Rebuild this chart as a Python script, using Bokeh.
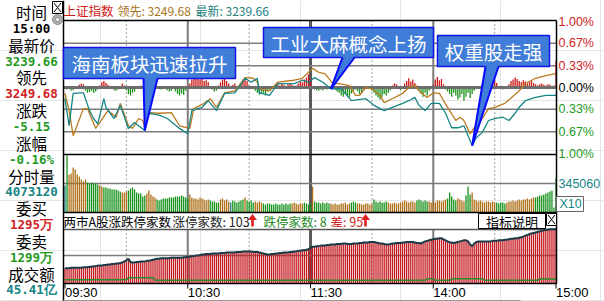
from bokeh.plotting import figure
from bokeh.models import Range1d
from bokeh.core.properties import value
from bokeh.embed import file_html
from bokeh.resources import INLINE

# ------------------------------------------------------------------ data
index_name = "上证指数"
lead_text = "领先: 3249.68"
last_text = "最新: 3239.66"

time_labels = ["09:30", "10:30", "11:30", "14:00", "15:00"]
time_ticks = [0, 60, 120, 180, 240]
grid_solid = [60, 180]
grid_break = [120]
grid_dotted = [30, 90, 150, 210]

pct_ticks = [1.0, 0.67, 0.33, 0.0, -0.33, -0.67, -1.0]
pct_labels = ["1.00%", "0.67%", "0.33%", "0.00%", "0.33%", "0.67%", "1.00%"]
pct_label_side = ["up", "up", "up", "flat", "down", "down", "down"]
vol_tick = 345060
vol_tick_label = "345060"

# index (teal) and leading index (brown), % change vs previous close
index_min = [0, 2, 4, 8, 9, 12, 14, 16, 19, 20, 24, 27, 31, 34, 36, 39, 41, 46, 50, 56,
             60, 62, 67, 70, 74, 78, 83, 88, 91, 94, 95, 100, 104, 112, 116, 119, 122, 126,
             130, 135, 140, 147, 151, 156, 160, 165, 168, 171, 173, 176, 179, 183, 186, 189,
             192, 195, 199, 201, 204, 207, 210, 214, 217, 220, 222, 225, 230, 235, 240]
index_pct = [-0.17, -0.58, -0.09, -0.08, -0.08, -0.35, -0.47, -0.55, -0.17, -0.30,
             -0.47, -0.27, -0.62, -0.53, -0.58, -0.65, -0.39, -0.42, -0.47, -0.62,
             -0.70, -0.35, -0.30, -0.20, -0.35, -0.09, -0.08, 0.14, 0.08, 0.14,
             -0.08, -0.12, 0.06, 0.06, 0.11, 0.08, 0.15, 0.08, -0.02, -0.02,
             -0.20, -0.17, -0.27, -0.35, -0.30, -0.24, -0.20, -0.15, -0.27, -0.35,
             -0.24, -0.24, -0.39, -0.61, -0.61, -0.58, -0.88, -0.76, -0.68, -0.50,
             -0.47, -0.45, -0.50, -0.39, -0.30, -0.20, -0.15, -0.12, -0.12]
lead_min = [0, 2, 4, 9, 11, 15, 21, 25, 27, 31, 33, 36, 38, 39, 41, 46, 52, 56, 61, 63,
            68, 71, 74, 78, 83, 88, 92, 94, 95, 100, 104, 112, 116, 121, 124, 127, 131, 134,
            139, 142, 144, 147, 150, 154, 156, 160, 165, 168, 171, 173, 177, 180, 183, 185,
            188, 191, 193, 195, 198, 200, 204, 207, 210, 215, 222, 225, 230, 235, 240]
lead_pct = [-0.09, -0.35, -0.73, -0.32, -0.32, -0.62, -0.35, -0.45, -0.24, -0.58,
            -0.62, -0.47, -0.50, -0.61, -0.38, -0.39, -0.38, -0.58, -0.62, -0.32,
            -0.24, -0.17, -0.30, -0.08, -0.05, 0.15, 0.14, 0.08, -0.02, -0.05,
            0.08, 0.11, 0.14, 0.29, 0.23, 0.21, 0.06, 0.06, 0.03, -0.12,
            -0.12, 0.00, -0.02, -0.12, -0.23, -0.17, -0.09, 0.00, 0.03, -0.05,
            -0.15, -0.08, -0.09, -0.20, -0.35, -0.50, -0.45, -0.50, -0.70, -0.61,
            -0.47, -0.32, -0.30, -0.24, -0.05, 0.06, 0.14, 0.18, 0.21]

# red / green strength bars around the zero line (one per minute)
strength = [
    0, -0.03, -0.02, -0.05, -0.04, 0.02, 0, 0.04, 0.06, 0.05,
    -0.05, -0.08, -0.07, -0.05, -0.08, -0.06, -0.03, 0.03, 0.08, 0.10,
    0.07, 0.04, 0.02, -0.02, -0.04, -0.05, -0.03, 0.02, 0.06, 0.03,
    -0.04, -0.10, -0.12, -0.08, -0.06, -0.02, 0.02, 0.03, 0.02, 0.04,
    0.10, 0.13, 0.11, 0.08, 0.03, 0.02, -0.02, -0.03, -0.02, 0.02,
    -0.04, -0.06, -0.05, -0.02, -0.06, -0.10, -0.12, -0.09, -0.11, -0.05,
    -0.02, 0.06, 0.12, 0.15, 0.13, 0.15, 0.12, 0.14, 0.10, 0.11,
    0.08, 0.02, -0.03, -0.06, -0.05, 0.03, 0.08, 0.12, 0.15, 0.10,
    0.06, 0.02, 0.04, 0.06, 0.02, 0.02, 0.07, 0.12, 0.14, 0.10,
    0.03, 0.01, -0.02, -0.05, -0.08, -0.11, -0.10, -0.08, -0.12, -0.06,
    -0.03, -0.02, 0.02, 0.05, 0.08, 0.03, 0.06, 0.04, 0.02, 0.05,
    0.07, 0.04, 0.02, 0.03, 0.06, 0.10, 0.08, 0.12, 0.15, 0.20,
    0.13, -0.02, -0.03, -0.04, -0.05, -0.03, -0.04, -0.02, -0.03, -0.02,
    0.00, 0.02, -0.03, -0.06, -0.08, -0.12, -0.14, -0.10, -0.12, -0.15,
    -0.09, -0.05, -0.03, -0.06, -0.10, -0.08, -0.03, 0.02, 0.00, -0.02,
    -0.05, -0.08, -0.12, -0.15, -0.18, -0.14, -0.10, -0.12, -0.08, -0.04,
    0.03, 0.06, 0.05, -0.02, -0.04, 0.02, 0.06, 0.10, 0.14, 0.09,
    0.12, 0.07, 0.03, -0.04, -0.10, -0.14, -0.08, -0.12, -0.05, -0.02,
    0.04, 0.12, 0.16, 0.11, 0.13, 0.05, -0.03, -0.06, -0.10, -0.14,
    -0.08, -0.12, -0.18, -0.15, -0.10, -0.20, -0.14, -0.08, -0.16, -0.10,
    -0.05, 0.02, 0.00, -0.02, 0.05, 0.08, 0.12, 0.14, 0.10, 0.15,
    0.12, 0.07, 0.02, -0.02, -0.03, -0.01, 0.02, 0.05, 0.10, 0.12,
    0.15, 0.13, 0.10, 0.08, 0.11, 0.09, 0.06, 0.08, 0.10, 0.07,
    0.05, 0.03, 0.05, 0.06, 0.04, 0.03, 0.05, 0.04, 0.02, 0.03,
    0.40]

# per-minute volume (units of 10 lots)
volume = [
    321000, 678000,
    452000, 464000, 535000, 512000, 452000, 428000, 393000, 369000, 393000,
    357000, 345000, 357000, 345000, 345000, 333000,
    321000, 309000,
    297000, 297000, 286000, 286000, 274000, 274000, 274000, 262000, 250000,
    238000, 238000, 250000,
    262000, 286000, 297000, 274000, 238000, 226000, 226000, 190000,
    202000, 226000, 262000, 214000, 190000, 178000,
    155000, 143000, 155000, 167000, 167000, 167000, 178000, 178000, 178000, 190000,
    190000, 190000, 202000, 190000, 178000, 167000,
    214000, 178000, 167000, 167000, 155000, 178000, 167000, 155000, 143000, 155000,
    143000, 131000, 131000, 119000, 119000,
    155000, 167000, 143000, 155000, 131000,
    119000, 143000, 131000, 119000, 131000, 143000, 155000,
    178000,
    143000, 131000, 143000, 119000,
    131000, 119000, 131000, 119000,
    107000, 95000, 107000, 107000, 95000, 95000, 107000, 95000, 95000, 107000,
    95000, 107000, 95000, 107000,
    107000, 119000, 107000, 95000, 107000, 107000, 119000, 107000, 95000,
    107000,
    309000,
    131000, 119000, 119000, 107000, 119000, 107000, 119000, 107000,
    107000, 95000, 107000, 95000, 95000, 107000, 107000, 119000, 95000, 107000,
    119000, 131000, 119000,
    107000, 107000, 95000, 95000, 107000, 107000, 95000, 107000,
    155000, 131000, 119000, 131000, 119000, 119000, 131000,
    119000, 107000, 107000, 119000, 107000, 107000, 119000, 131000, 143000, 131000,
    119000, 131000, 131000, 119000,
    143000, 155000, 143000, 131000, 143000, 131000,
    131000, 119000, 131000, 119000, 143000, 143000, 131000, 143000, 155000,
    167000, 238000, 190000, 155000, 143000,
    167000, 155000, 143000, 131000,
    202000, 309000, 214000,
    238000, 155000, 143000, 131000, 143000, 131000, 119000, 131000, 131000, 119000,
    131000, 119000,
    119000, 107000, 119000, 119000, 107000,
    119000, 131000, 131000, 143000, 131000, 143000, 155000, 143000, 155000, 155000,
    167000, 155000, 167000, 178000,
    178000, 190000, 202000, 202000, 214000, 226000, 238000, 250000, 262000,
    60000,
    407312]
# bar colour per minute: t = teal, g = green (down), o = brown (up)
volume_side = ("t" + "g" + "o" * 9 + "g" * 6 + "o" * 2 + "g" * 9 + "o" * 3 + "g" * 9
               + "o" * 5 + "g" * 16 + "o" * 10 + "g" * 5 + "o" * 5 + "t" + "g" * 6 + "o"
               + "g" * 4 + "o" * 4 + "g" * 14 + "o" * 6 + "g" * 4 + "o" + "g" * 8
               + "o" * 10 + "g" * 3 + "o" * 8 + "g" * 7 + "o" * 14 + "g" * 6 + "o" * 9
               + "g" * 5 + "o" * 4 + "g" * 3 + "o" * 12 + "g" * 5 + "o" * 14 + "g" * 11)

# number of limit-up stocks per minute
limit_up = [
    29, 29, 29, 30, 30, 30, 30, 30, 30, 31,
    31, 31, 32, 32, 33, 33, 34, 34, 34, 35,
    35, 36, 36, 37, 37, 38, 38, 39, 40, 42,
    44, 47, 41, 40, 40, 41, 41, 42, 42, 42,
    43, 43, 44, 45, 46, 47, 47, 48, 48, 48,
    48, 48, 49, 49, 49, 49, 49, 49, 50, 50,
    51, 51, 52, 52, 53, 53, 54, 55, 55, 56,
    56, 56, 57, 57, 57, 57, 58, 58, 58, 59,
    59, 59, 59, 59, 60, 60, 60, 61, 61, 61,
    61, 61, 60, 60, 60, 59, 58, 57, 56, 55,
    55, 56, 56, 57, 57, 58, 58, 59, 59, 59,
    60, 60, 61, 61, 62, 62, 63, 63, 64, 65,
    68, 70, 70, 71, 71, 72, 72, 72, 73, 73,
    74, 74, 74, 75, 75, 75, 76, 76, 75, 75,
    75, 76, 76, 76, 77, 77, 78, 78, 78, 79,
    79, 79, 78, 77, 76, 76, 75, 74, 74, 75,
    76, 76, 77, 77, 77, 78, 78, 79, 79, 79,
    79, 78, 77, 77, 76, 78, 80, 81, 82, 83,
    84, 85, 85, 86, 86, 84, 82, 80, 78, 78,
    77, 78, 79, 80, 81, 82, 82, 80, 74, 71,
    76, 79, 80, 80, 80, 80, 80, 80, 80, 81,
    81, 81, 82, 82, 82, 83, 83, 84, 85, 85,
    86, 86, 87, 88, 89, 91, 92, 94, 95, 96,
    97, 98, 99, 100, 101, 102, 102, 103, 103, 103,
    103]
# number of limit-down stocks
down_min = [0, 30, 31, 43, 44, 176, 177, 180, 181, 188, 189, 204, 205, 231, 232, 240]
down_cnt = [7, 7, 11, 11, 6, 6, 9, 9, 6, 6, 9, 9, 6, 6, 9, 8]

info_labels = ["时间", "最新价", "领先", "涨跌", "涨幅", "分时量", "委买", "委卖", "成交额"]
info_values = ["15:00", "3239.66", "3249.68", "-5.15", "-0.16%", "4073120", "1295万", "1299万", "45.41亿"]
info_value_side = ["plain", "down", "up", "down", "down", "vol", "up", "down", "vol"]

indicator_title = "两市A股涨跌停家数"
limit_up_text = "涨停家数: 103"
limit_down_text = "跌停家数: 8"
diff_text = "差: 95"
button_text = "指标说明"
vol_unit_text = "X10"

callout_texts = ["海南板块迅速拉升", "工业大麻概念上扬", "权重股走强"]
callout_point = [15, 38, 56]          # index into index_min / index_pct

# ------------------------------------------------------------------ style / layout
RED = "#D02222"
GREEN = "#1F9A1F"
TEAL = "#178585"
BROWN = "#B97A20"
GRID = "#7C7C7C"
BLACK = "#000000"
CJK = "Noto Sans CJK SC"
SANS = "Liberation Sans"
MONO = "DejaVu Sans Mono"
side_color = {"up": RED, "down": GREEN, "flat": BLACK, "plain": BLACK, "vol": TEAL}
vol_color = {"t": "#15807F", "g": "#16921A", "o": "#AE6F16"}

W, H = 604, 301
X0, PXM = 64.5, 2.046            # pixel of 09:30, pixels per minute
L, R = 63, 556                    # chart frame left / right
Y_TOP, Y_UP_BOT = 20, 154         # price panel
Y_ZERO, PX_PCT = 87, 66
Y_VOL_BOT = 212
VOL_PER_PX = vol_tick / 29.0
Y_LOW_TOP, Y_LOW_BOT = 229, 283
CNT_PER_PX = 1.9

p = figure(width=W, height=H, x_range=Range1d(0, W), y_range=Range1d(H, 0),
           x_axis_location=None, y_axis_location=None, toolbar_location=None,
           output_backend="svg", min_border=0, outline_line_color=None, title=None,
           background_fill_color="white", border_fill_color="white")
p.extra_x_ranges = {"min": Range1d(-X0 / PXM, (W - X0) / PXM)}
p.extra_y_ranges = {
    "pct": Range1d(-(H - Y_ZERO) / PX_PCT, Y_ZERO / PX_PCT),
    "vol": Range1d(-(H - Y_VOL_BOT) * VOL_PER_PX, Y_VOL_BOT * VOL_PER_PX),
    "cnt": Range1d(-(H - Y_LOW_BOT) * CNT_PER_PX, Y_LOW_BOT * CNT_PER_PX),
}


def txt(x, y, s, color, size, font=CJK, align="left", bold=False, xr="default", yr="default"):
    p.text(x=[x], y=[y], text=[s], text_color=color, text_font=value(font),
           text_font_size=value(size), text_align=align, text_baseline="middle",
           text_font_style="bold" if bold else "normal", x_range_name=xr, y_range_name=yr)


def hline(y, x0, x1, color, width, yr="default"):
    p.segment(x0=[x0], y0=[y], x1=[x1], y1=[y], line_color=color, line_width=width, y_range_name=yr)


# ---------------- grid lines
panels = [(Y_TOP, Y_UP_BOT), (Y_UP_BOT, Y_VOL_BOT), (Y_LOW_TOP, Y_LOW_BOT)]
for (a, b) in panels:
    n = len(grid_dotted)
    p.segment(x0=grid_dotted, y0=[a] * n, x1=grid_dotted, y1=[b] * n, x_range_name="min",
              line_color="#444444", line_width=1, line_dash="1 3")
    p.segment(x0=grid_solid, y0=[a] * 2, x1=grid_solid, y1=[b] * 2, x_range_name="min",
              line_color=GRID, line_width=2)
    p.segment(x0=grid_break, y0=[a], x1=grid_break, y1=[b], x_range_name="min",
              line_color="#5A5A5A", line_width=3)

for t in pct_ticks:
    if t not in (1.0, -1.0, 0.0):
        hline(t, L, R, GRID, 1.5, "pct")
hline(vol_tick, L, R, GRID, 1.5, "vol")
hline(255, L, R, GRID, 1.5)
hline(Y_LOW_TOP, L, R, "#555555", 1.5)

# ---------------- strength bars and price lines
minutes = list(range(len(strength)))
p.segment(x0=minutes, y0=[0] * len(minutes), x1=minutes, y1=strength,
          line_color=["#CC1818" if v > 0 else "#1C921C" for v in strength], line_width=1.3,
          x_range_name="min", y_range_name="pct")
hline(0, L, R, "#6E6E6E", 3, "pct")
p.line(lead_min, lead_pct, line_color=BROWN, line_width=1.3, x_range_name="min", y_range_name="pct")
p.line(index_min, index_pct, line_color=TEAL, line_width=1.3, x_range_name="min", y_range_name="pct")

# ---------------- volume bars
vm = list(range(len(volume)))
p.segment(x0=vm, y0=[0] * len(vm), x1=vm, y1=volume,
          line_color=[vol_color[c] for c in volume_side[:len(vm)]], line_width=1.3,
          x_range_name="min", y_range_name="vol")

# ---------------- limit-up / limit-down panel
um = list(range(len(limit_up)))
p.segment(x0=um, y0=[0] * len(um), x1=um, y1=limit_up, line_color="#C41820", line_width=1.3,
          x_range_name="min", y_range_name="cnt")
p.line(um, limit_up, line_color="#1D3B47", line_width=2, x_range_name="min", y_range_name="cnt")
p.line(down_min, down_cnt, line_color="#2A8A2A", line_width=1.5, x_range_name="min", y_range_name="cnt")

# ---------------- frame lines
p.segment(x0=[L], y0=[0], x1=[L], y1=[H], line_color=BLACK, line_width=1.5)
p.segment(x0=[R], y0=[Y_TOP], x1=[R], y1=[Y_LOW_BOT], line_color=BLACK, line_width=1.5)
for y in (Y_TOP, Y_UP_BOT, Y_VOL_BOT, Y_LOW_BOT):
    hline(y, L, R, BLACK, 1.5)
hline(300, L, 520, "#9A9A9A", 1)

# time ticks and labels
nt = len(time_ticks)
p.segment(x0=time_ticks, y0=[Y_LOW_BOT] * nt, x1=time_ticks, y1=[Y_LOW_BOT + 5] * nt,
          x_range_name="min", line_color=BLACK, line_width=1)
p.text(x=time_ticks, y=[292] * nt, text=time_labels, x_range_name="min",
       text_font=value(SANS), text_font_size=value("13px"), text_color=BLACK,
       text_align="left", text_baseline="middle")

# right percent labels
p.text(x=[558] * len(pct_ticks), y=pct_ticks, text=pct_labels, y_range_name="pct",
       text_color=[side_color[s] for s in pct_label_side], text_font=value(SANS),
       text_font_size=value("12.5px"), text_align="left", text_baseline="middle")
p.text(x=[558], y=[vol_tick], text=[vol_tick_label], y_range_name="vol", text_color=TEAL,
       text_font=value(SANS), text_font_size=value("12.5px"), text_align="left", text_baseline="middle")
p.quad(left=[556], right=[583], top=[196], bottom=[211], fill_color="white", line_color="#666666", line_width=1)
txt(559, 203.5, vol_unit_text, TEAL, "12.5px", font=SANS)

# ---------------- header row
txt(63, 10, index_name, "#D01818", "12.5px")
txt(117, 10, lead_text, "#A8741C", "12px")
txt(195, 10, last_text, "#1C8080", "12px")

# ---------------- indicator row
txt(63, 220.5, indicator_title, BLACK, "12.5px")
txt(172, 220.5, limit_up_text, "#222222", "12.5px")
txt(263, 220.5, limit_down_text, "#1E8A1E", "12.5px")
txt(330, 220.5, diff_text, RED, "12.5px")
for cx in (252, 365):
    p.patch(x=[cx - 4, cx + 4, cx + 1.3, cx + 1.3, cx - 1.3, cx - 1.3], y=[219, 219, 219, 226, 226, 219],
            fill_color="#E02020", line_color=None)
    p.patch(x=[cx - 4.5, cx + 4.5, cx], y=[219.5, 219.5, 213.5], fill_color="#E02020", line_color=None)
p.quad(left=[478], right=[545], top=[213], bottom=[228], fill_color="white", line_color=BLACK, line_width=1)
txt(511.5, 220.5, button_text, BLACK, "13px", align="center")
p.quad(left=[546], right=[556], top=[213], bottom=[225], fill_color="white", line_color=BLACK, line_width=1)
p.segment(x0=[547.5, 547.5], y0=[214.5, 223.5], x1=[554.5, 554.5], y1=[223.5, 214.5], line_color=BLACK, line_width=1)

# ---------------- left info panel
p.quad(left=[52], right=[62], top=[1], bottom=[13], fill_color="white", line_color=BLACK, line_width=1)
p.segment(x0=[53.5, 53.5], y0=[2.5, 11.5], x1=[60.5, 60.5], y1=[11.5, 2.5], line_color=BLACK, line_width=1)
p.scatter(x=[57], y=[19], size=10, marker="circle", fill_color="#B0B0B0", line_color="#8A8A8A")
p.scatter(x=[57], y=[19], size=4, marker="circle", fill_color="white", line_color="#8A8A8A")

row_y = [11.5 + i * 16.35 for i in range(18)]
for i, lab in enumerate(info_labels):
    txt(31, row_y[2 * i], lab, BLACK, "15.5px", align="center")
for i, val in enumerate(info_values):
    txt(31, row_y[2 * i + 1], val, side_color[info_value_side[i]], "12.5px", font=MONO,
        align="center", bold=True)

# ---------------- callouts
boxes = [(63, 235, 47, 78, 143, 157), (263, 433, 27, 57, 342, 354), (437, 549, 35, 66, 485, 498)]
FILL = "#3F7DD8"
EDGE = "#1414E6"
for (l, r, t, b, bx0, bx1), label, k in zip(boxes, callout_texts, callout_point):
    tip_x = X0 + index_min[k] * PXM
    tip_y = Y_ZERO - index_pct[k] * PX_PCT
    p.quad(left=[l], right=[r], top=[t], bottom=[b], fill_color=FILL, line_color=EDGE, line_width=1.5)
    p.patch(x=[bx0, bx1, tip_x], y=[b - 1.5, b - 1.5, tip_y], fill_color=FILL, line_color=None)
    p.segment(x0=[bx0, bx1], y0=[b, b], x1=[tip_x, tip_x], y1=[tip_y, tip_y], line_color="#0A0AFF", line_width=2)
    txt((l + r) / 2, (t + b) / 2 + 0.5, label, "white", "19.5px", align="center")

open("out.html", "w").write(file_html(p, INLINE))
